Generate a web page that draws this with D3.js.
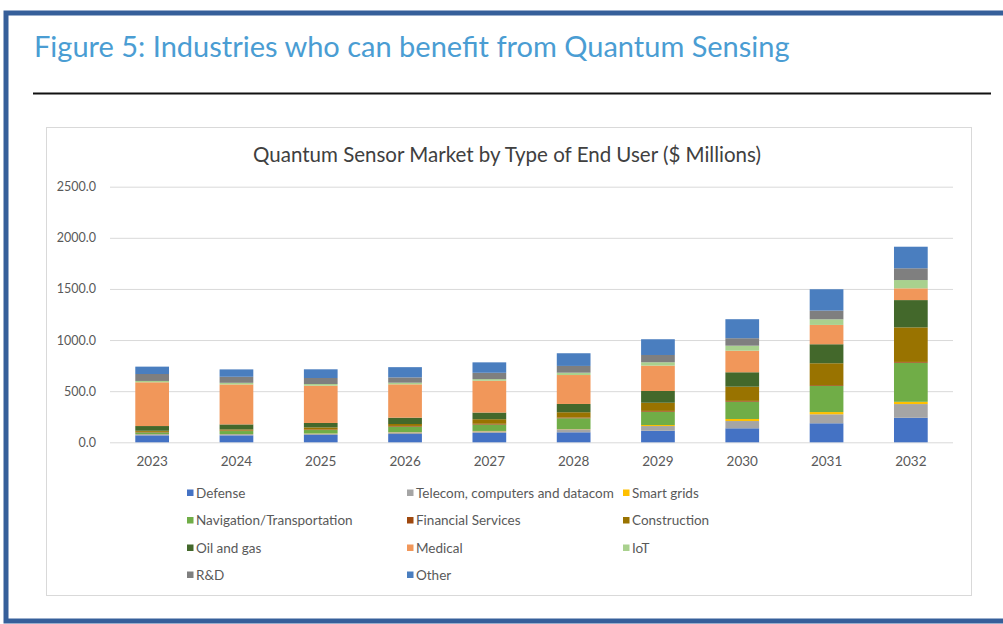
<!DOCTYPE html>
<html>
<head>
<meta charset="utf-8">
<script src="https://cdn.jsdelivr.net/npm/d3@7"></script>
<style>
  html, body { margin: 0; padding: 0; background: #fff; }
  svg { display: block; }
</style>
</head>
<body>
<svg id="chart" width="1003" height="624"></svg>
<script>
// Years on the category axis
const years = ["2023", "2024", "2025", "2026", "2027", "2028", "2029", "2030", "2031", "2032"];

// End-user segments, stacked bottom to top
const seriesNames = [
  "Defense", "Telecom, computers and datacom", "Smart grids",
  "Navigation/Transportation", "Financial Services", "Construction",
  "Oil and gas", "Medical", "IoT", "R&D", "Other"
];

// Market size per segment, $ millions, one value per year
const defense      = [68, 68, 72, 81, 92, 98, 113, 137, 186, 240];
const telecom      = [12, 12, 12, 17, 16, 30, 46, 71, 88, 134];
const smartGrids   = [1, 1, 2, 2, 3, 2, 10, 20, 22, 22];
const navigation   = [16, 29, 34, 53, 62, 105, 130, 169, 255, 382];
const financial    = [5, 5, 6, 7, 8, 8, 8, 8, 8, 8];
const construction = [11, 11, 20, 19, 45, 51, 80, 139, 214, 338];
const oilGas       = [46, 49, 43, 62, 65, 81, 115, 141, 186, 267];
const medical      = [428, 391, 365, 326, 311, 283, 248, 211, 189, 115];
const iot          = [13, 16, 16, 16, 16, 23, 33, 49, 55, 81];
const rnd          = [68, 59, 59, 52, 62, 66, 71, 73, 85, 115];
const other        = [72, 72, 85, 100, 102, 124, 154, 186, 209, 211];

// Axis ticks
const yTicks = [0, 500, 1000, 1500, 2000, 2500];

const seriesValues = [defense, telecom, smartGrids, navigation, financial,
  construction, oilGas, medical, iot, rnd, other];
const seriesColors = ["#4472c4", "#a5a5a5", "#ffc000", "#70ad47", "#9e480e",
  "#997300", "#43682b", "#f1975a", "#a9d18e", "#7f7f7f", "#4a7ebf"];

const FONT = "Lato, 'Open Sans', sans-serif";
const svg = d3.select("#chart");

// Outer frame
svg.append("rect")
  .attr("x", 6).attr("y", 13)
  .attr("width", 1020).attr("height", 608)
  .attr("fill", "none")
  .attr("stroke", "#365f9a")
  .attr("stroke-width", 5);

// Figure heading
svg.append("text")
  .attr("x", 34).attr("y", 57)
  .attr("font-family", FONT)
  .attr("font-size", 29)
  .attr("fill", "#4a9dd3")
  .text("Figure 5: Industries who can benefit from Quantum Sensing");

svg.append("line")
  .attr("x1", 33).attr("x2", 991)
  .attr("y1", 93.5).attr("y2", 93.5)
  .attr("stroke", "#111").attr("stroke-width", 2);

// Chart area border
svg.append("rect")
  .attr("x", 46.5).attr("y", 127.5)
  .attr("width", 925).attr("height", 468)
  .attr("fill", "#fff")
  .attr("stroke", "#d9d9d9").attr("stroke-width", 1);

svg.append("text")
  .attr("x", 507).attr("y", 162)
  .attr("text-anchor", "middle")
  .attr("font-family", FONT)
  .attr("font-size", 20.5)
  .attr("fill", "#404040")
  .text("Quantum Sensor Market by Type of End User ($ Millions)");

const plot = { left: 110, right: 953, top: 186.7, bottom: 442.3 };

const x = d3.scaleBand()
  .domain(years)
  .range([plot.left, plot.right])
  .paddingInner(0.6)
  .paddingOuter(0.3);

const y = d3.scaleLinear()
  .domain([0, 2500])
  .range([plot.bottom, plot.top]);

// Gridlines and y labels
const yAxis = d3.axisLeft(y)
  .tickValues(yTicks)
  .tickFormat(d3.format(".1f"))
  .tickSize(-(plot.right - plot.left))
  .tickPadding(14);

const gy = svg.append("g")
  .attr("transform", `translate(${plot.left},0)`)
  .call(yAxis);
gy.select(".domain").remove();
gy.selectAll(".tick line").attr("stroke", "#d9d9d9").attr("stroke-width", 1);
gy.selectAll(".tick text")
  .attr("fill", "#595959")
  .attr("font-family", FONT)
  .attr("font-size", 12.5);

// Year labels
const xAxis = d3.axisBottom(x).tickSize(0).tickPadding(14);
const gx = svg.append("g")
  .attr("transform", `translate(0,${plot.bottom})`)
  .call(xAxis);
gx.select(".domain").remove();
gx.selectAll(".tick text")
  .attr("fill", "#595959")
  .attr("font-family", FONT)
  .attr("font-size", 13.5);

// Stacked bars
const rows = years.map((yr, i) => {
  const r = { year: yr };
  seriesNames.forEach((s, k) => { r[s] = seriesValues[k][i]; });
  return r;
});
const stacked = d3.stack().keys(seriesNames)(rows);

svg.append("g")
  .selectAll("g")
  .data(stacked)
  .join("g")
  .attr("fill", (d, k) => seriesColors[k])
  .selectAll("rect")
  .data(d => d)
  .join("rect")
  .attr("x", d => x(d.data.year))
  .attr("width", x.bandwidth())
  .attr("y", d => y(d[1]))
  .attr("height", d => y(d[0]) - y(d[1]));

// Legend in three columns
const legendCols = [190, 410, 626];
const legendRows = [493, 520.5, 548, 575];
const legend = svg.append("g")
  .attr("font-family", FONT)
  .attr("font-size", 13.5)
  .attr("fill", "#595959");

seriesNames.forEach((name, k) => {
  const cx = legendCols[k % 3];
  const cy = legendRows[Math.floor(k / 3)];
  legend.append("rect")
    .attr("x", cx - 3).attr("y", cy - 3.5)
    .attr("width", 6.5).attr("height", 6.5)
    .attr("fill", seriesColors[k]);
  legend.append("text")
    .attr("x", cx + 6).attr("y", cy + 4.5)
    .text(name);
});
</script>
</body>
</html>
